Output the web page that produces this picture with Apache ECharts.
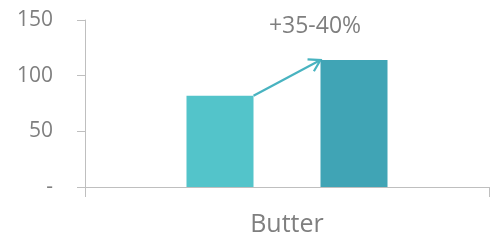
<!DOCTYPE html>
<html>
<head>
<meta charset="utf-8"/>
<title>Butter</title>
<script src="https://cdn.jsdelivr.net/npm/echarts@6/dist/echarts.min.js"></script>
<style>
  * { margin: 0; padding: 0; }
  body { background: #fff; }
  #chart { width: 491px; height: 240px; }
</style>
</head>
<body>
<div id="chart"></div>
<script>
  // data
  var categories = ['Butter'];
  var before = [82];
  var after = [114];
  var yTicks = [0, 50, 100, 150];
  var growthLabel = '+35-40%';

  var textColor = '#7f7f7f';
  var axisColor = '#bfbfbf';
  var barW = 67;

  var chart = echarts.init(document.getElementById('chart'));
  var option = {
    animation: false,
    grid: { left: 85, right: 2, top: 20, bottom: 53 },
    xAxis: {
      type: 'category',
      data: categories,
      axisLine: { lineStyle: { color: axisColor, width: 1 } },
      axisTick: { show: true, length: 10, lineStyle: { color: axisColor } },
      axisLabel: { color: textColor, fontFamily: 'Open Sans', fontSize: 25, margin: 25 }
    },
    yAxis: {
      type: 'value',
      min: yTicks[0],
      max: yTicks[yTicks.length - 1],
      interval: 50,
      splitLine: { show: false },
      axisLine: { show: true, lineStyle: { color: axisColor } },
      axisTick: { show: true, length: 8, lineStyle: { color: axisColor } },
      axisLabel: {
        color: textColor, fontFamily: 'Open Sans', fontSize: 21, margin: 32,
        formatter: function (v) { return v === 0 ? '-' : v; }
      }
    },
    series: [
      { type: 'bar', data: before, barWidth: barW, barGap: '100%', itemStyle: { color: '#53c4ca' } },
      { type: 'bar', data: after, barWidth: barW, itemStyle: { color: '#40a4b5' } }
    ]
  };
  chart.setOption(option);

  // arrow between the bar tops, positioned from the axes
  var cx = chart.convertToPixel({ xAxisIndex: 0 }, categories[0]);
  var y1 = chart.convertToPixel({ yAxisIndex: 0 }, before[0]);
  var y2 = chart.convertToPixel({ yAxisIndex: 0 }, after[0]);
  var x1 = cx - barW / 2;
  var x2 = cx + barW / 2;
  var ang = Math.atan2(y2 - y1, x2 - x1);
  var head = 13, spread = 0.55;
  var arrowColor = '#48b3c0';
  chart.setOption({
    graphic: [
      { type: 'line', shape: { x1: x1, y1: y1, x2: x2, y2: y2 },
        style: { stroke: arrowColor, lineWidth: 2.2 } },
      { type: 'polyline', shape: { points: [
          [x2 - head * Math.cos(ang - spread), y2 - head * Math.sin(ang - spread)],
          [x2, y2],
          [x2 - head * Math.cos(ang + spread), y2 - head * Math.sin(ang + spread)]
        ] },
        style: { stroke: arrowColor, lineWidth: 2.2, fill: null } },
      { type: 'text', x: cx + 28, y: 26,
        style: { text: growthLabel, fill: textColor, font: '23px "Open Sans"',
                 textAlign: 'center', textVerticalAlign: 'middle' } }
    ]
  });
</script>
</body>
</html>
